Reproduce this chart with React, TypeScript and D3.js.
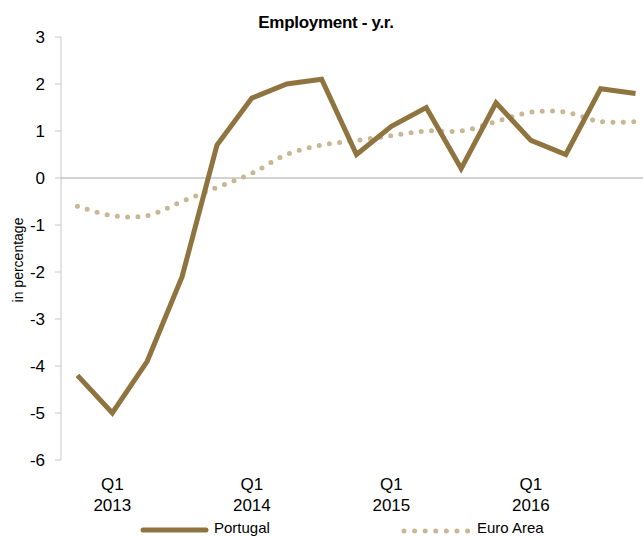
import React from 'react';
import * as d3 from 'd3';

// quarters Q4 2012 .. Q4 2016
const quarters = [
  '2012Q4', '2013Q1', '2013Q2', '2013Q3', '2013Q4',
  '2014Q1', '2014Q2', '2014Q3', '2014Q4',
  '2015Q1', '2015Q2', '2015Q3', '2015Q4',
  '2016Q1', '2016Q2', '2016Q3', '2016Q4',
];
const portugal = [-4.2, -5.0, -3.9, -2.1, 0.7, 1.7, 2.0, 2.1, 0.5, 1.1, 1.5, 0.2, 1.6, 0.8, 0.5, 1.9, 1.8];
const euroArea = [-0.6, -0.8, -0.8, -0.5, -0.2, 0.1, 0.5, 0.7, 0.8, 0.9, 1.0, 1.0, 1.2, 1.4, 1.4, 1.2, 1.2];
const yTicks = [3, 2, 1, 0, -1, -2, -3, -4, -5, -6];
const xLabels = [
  { q: '2013Q1', top: 'Q1', bottom: '2013' },
  { q: '2014Q1', top: 'Q1', bottom: '2014' },
  { q: '2015Q1', top: 'Q1', bottom: '2015' },
  { q: '2016Q1', top: 'Q1', bottom: '2016' },
];

const W = 643;
const H = 537;
const FONT = '"Liberation Sans", Arial, sans-serif';
const PT_COLOR = '#8f743f';
const EA_COLOR = '#c9b694';

export default function App() {
  const x = d3.scaleBand<string>().domain(quarters).range([60, 653]);
  const cx = (q: string) => (x(q) ?? 0) + x.bandwidth() / 2;
  const y = d3.scaleLinear().domain([-6, 3]).range([460, 37]);

  const ptLine = d3.line<number>()
    .x((_, i) => cx(quarters[i]))
    .y(d => y(d));
  const eaLine = d3.line<number>()
    .x((_, i) => cx(quarters[i]))
    .y(d => y(d))
    .curve(d3.curveCatmullRom.alpha(0.5));

  return (
    <div style={{ position: 'absolute', left: 0, top: 0 }}>
      <svg width={W} height={H} style={{ display: 'block', background: '#fff' }} fontFamily={FONT}>
        <text x={326} y={28} textAnchor="middle" fontSize={17} fontWeight="bold" letterSpacing={-0.3}>
          Employment - y.r.
        </text>

        {/* y axis */}
        <line x1={61} x2={61} y1={y(3)} y2={y(-6)} stroke="#c8c8c8" strokeWidth={1} />
        {yTicks.map(t => (
          <g key={t}>
            <line x1={55} x2={61} y1={y(t)} y2={y(t)} stroke="#c8c8c8" />
            <text x={45} y={y(t)} dy="0.36em" textAnchor="end" fontSize={17} fill="#000">{t}</text>
          </g>
        ))}
        <text transform={`translate(23,260) rotate(-90)`} textAnchor="middle" fontSize={14} fill="#000">
          in percentage
        </text>

        {/* zero line */}
        <line x1={61} x2={W} y1={y(0)} y2={y(0)} stroke="#a6a6a6" strokeWidth={1} />

        {/* x labels */}
        {xLabels.map(l => (
          <g key={l.q}>
            <text x={cx(l.q)} y={490} textAnchor="middle" fontSize={17}>{l.top}</text>
            <text x={cx(l.q)} y={511} textAnchor="middle" fontSize={17}>{l.bottom}</text>
          </g>
        ))}

        <path d={eaLine(euroArea) ?? ''} fill="none" stroke={EA_COLOR} strokeWidth={5}
          strokeLinecap="round" strokeDasharray="0 10.3" />
        <path d={ptLine(portugal) ?? ''} fill="none" stroke={PT_COLOR} strokeWidth={5}
          strokeLinejoin="miter" strokeLinecap="butt" />

        {/* legend */}
        <line x1={143} x2={206} y1={530} y2={530} stroke={PT_COLOR} strokeWidth={5} strokeLinecap="round" />
        <text x={214} y={533} fontSize={15}>Portugal</text>
        <line x1={404} x2={468} y1={531} y2={531} stroke={EA_COLOR} strokeWidth={5}
          strokeLinecap="round" strokeDasharray="0 10.6" />
        <text x={477} y={533} fontSize={15}>Euro Area</text>
      </svg>
    </div>
  );
}
